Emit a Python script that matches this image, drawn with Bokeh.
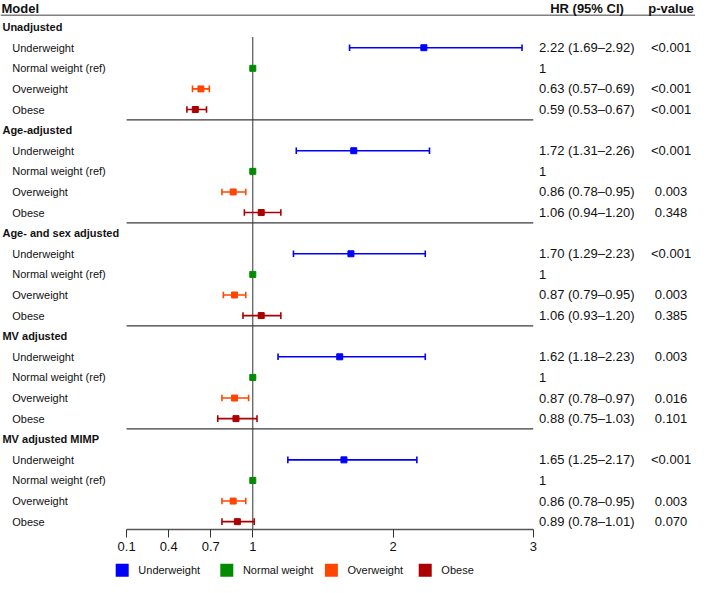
from bokeh.plotting import figure
from bokeh.layouts import column
from bokeh.models import Range1d, ColumnDataSource, FixedTicker, NumeralTickFormatter
from bokeh.core.properties import value
from bokeh.embed import file_html
from bokeh.resources import INLINE

# ---------------- data ----------------
groups = ["Unadjusted", "Age-adjusted", "Age- and sex adjusted", "MV adjusted", "MV adjusted MIMP"]
categories = ["Underweight", "Normal weight (ref)", "Overweight", "Obese"]
legend_labels = ["Underweight", "Normal weight", "Overweight", "Obese"]
colors = ["#0000FF", "#008B00", "#FF4500", "#AA0000"]

hr_unadj = [2.22, 1.00, 0.63, 0.59]
lo_unadj = [1.69, 1.00, 0.57, 0.53]
hi_unadj = [2.92, 1.00, 0.69, 0.67]
p_unadj = ["<0.001", "", "<0.001", "<0.001"]

hr_age = [1.72, 1.00, 0.86, 1.06]
lo_age = [1.31, 1.00, 0.78, 0.94]
hi_age = [2.26, 1.00, 0.95, 1.20]
p_age = ["<0.001", "", "0.003", "0.348"]

hr_agesex = [1.70, 1.00, 0.87, 1.06]
lo_agesex = [1.29, 1.00, 0.79, 0.93]
hi_agesex = [2.23, 1.00, 0.95, 1.20]
p_agesex = ["<0.001", "", "0.003", "0.385"]

hr_mv = [1.62, 1.00, 0.87, 0.88]
lo_mv = [1.18, 1.00, 0.78, 0.75]
hi_mv = [2.23, 1.00, 0.97, 1.03]
p_mv = ["0.003", "", "0.016", "0.101"]

hr_mimp = [1.65, 1.00, 0.86, 0.89]
lo_mimp = [1.25, 1.00, 0.78, 0.78]
hi_mimp = [2.17, 1.00, 0.95, 1.01]
p_mimp = ["<0.001", "", "0.003", "0.070"]

x_ticks = [0.1, 0.4, 0.7, 1, 2, 3]

hr_all = [hr_unadj, hr_age, hr_agesex, hr_mv, hr_mimp]
lo_all = [lo_unadj, lo_age, lo_agesex, lo_mv, lo_mimp]
hi_all = [hi_unadj, hi_age, hi_agesex, hi_mv, hi_mimp]
p_all = [p_unadj, p_age, p_agesex, p_mv, p_mimp]

FONT = "Liberation Sans"

# ---------------- main figure ----------------
PXW = 711  # helper range in reference pixels for the text columns
x_lo = 0.1 - 129 / 143.45
x_hi = 0.1 + (PXW - 129) / 143.45
p = figure(width=695, height=553, output_backend="svg", toolbar_location=None,
           x_range=Range1d(x_lo, x_hi), y_range=Range1d(24.38, -1.29),
           min_border_left=0, min_border_right=0, min_border_top=0, min_border_bottom=0)
p.extra_x_ranges = {"px": Range1d(0, PXW)}
p.outline_line_color = None
p.xgrid.visible = False
p.ygrid.visible = False
p.yaxis.visible = False

uy, ulo, uhi, ucol = [], [], [], []
mx, my, mcol = [], [], []
hdr_txt, hdr_y = [], []
lab_txt, lab_y, hr_txt, p_txt = [], [], [], []
for g, grp in enumerate(groups):
    r0 = 5 * g
    hdr_txt.append(grp)
    hdr_y.append(r0)
    for i, cat in enumerate(categories):
        r = r0 + 1 + i
        h, l, u = hr_all[g][i], lo_all[g][i], hi_all[g][i]
        lab_txt.append(cat)
        lab_y.append(r)
        if i == 1:
            hr_txt.append("1")
        else:
            hr_txt.append(f"{h:.2f} ({l:.2f}\u2013{u:.2f})")
            uy.append(r); ulo.append(l); uhi.append(u); ucol.append(colors[i])
        p_txt.append(p_all[g][i])
        mx.append(h); my.append(r); mcol.append(colors[i])

# separators
sep_y = [5 * g + 4.5 for g in range(len(groups) - 1)]
p.segment(x0=[x_ticks[0]] * len(sep_y), x1=[x_ticks[-1]] * len(sep_y), y0=sep_y, y1=sep_y,
          line_color="#3a3a3a", line_width=1.3)
# header line
p.segment(x0=[0], x1=[PXW], y0=[-0.57], y1=[-0.57], x_range_name="px",
          line_color="#808080", line_width=1.5)
# reference line at HR = 1
p.segment(x0=[1], x1=[1], y0=[0.48], y1=[24.38], line_color="#333333", line_width=1)

# CI lines & caps
ci = ColumnDataSource(dict(lo=ulo, hi=uhi, y=uy, c=ucol,
                           ya=[v - 0.16 for v in uy], yb=[v + 0.16 for v in uy]))
p.segment(x0="lo", x1="hi", y0="y", y1="y", line_color="c", line_width=1.6, source=ci)
p.segment(x0="lo", x1="lo", y0="ya", y1="yb", line_color="c", line_width=1.6, source=ci)
p.segment(x0="hi", x1="hi", y0="ya", y1="yb", line_color="c", line_width=1.6, source=ci)
p.scatter(x=mx, y=my, marker="square", size=6, fill_color=mcol, line_color=mcol, line_width=1)

# texts
common = dict(x_range_name="px", text_font=value(FONT), text_baseline="middle", text_color="#111111")
p.text(x=[1], y=[-0.9], text=["Model"], text_font_size="13px", text_font_style="bold", **common)
p.text(x=[600], y=[-0.9], text=["HR (95% CI)"], text_font_size="13px", text_font_style="bold",
       text_align="center", **common)
p.text(x=[686], y=[-0.9], text=["p-value"], text_font_size="13px", text_font_style="bold",
       text_align="center", **common)
p.text(x=[2] * len(hdr_txt), y=hdr_y, text=hdr_txt, text_font_size="11px", text_font_style="bold", **common)
p.text(x=[12] * len(lab_txt), y=lab_y, text=lab_txt, text_font_size="11px", **common)
p.text(x=[551] * len(hr_txt), y=lab_y, text=hr_txt, text_font_size="13px", **common)
p.text(x=[686] * len(p_txt), y=lab_y, text=p_txt, text_font_size="13px", text_align="center", **common)

# axis
ax = p.xaxis[0]
ax.ticker = FixedTicker(ticks=x_ticks)
ax.bounds = (x_ticks[0], x_ticks[-1])
ax.formatter = NumeralTickFormatter(format="0.[0]")
ax.major_tick_out = 8
ax.major_tick_in = 0
ax.minor_tick_out = 0
ax.minor_tick_in = 0
ax.axis_line_color = "#555555"
ax.axis_line_width = 1.3
ax.major_tick_line_color = "#333333"
ax.major_label_text_font = FONT
ax.major_label_text_font_size = "13px"
ax.major_label_text_color = "#111111"
ax.major_label_standoff = 4

# ---------------- legend strip ----------------
leg_x = [118, 225, 332, 428]  # left edge of each key square (reference px)
q = figure(width=695, height=24, output_backend="svg", toolbar_location=None,
           x_range=Range1d(0, PXW), y_range=Range1d(0, 1),
           min_border_left=0, min_border_right=0, min_border_top=0, min_border_bottom=0)
q.outline_line_color = None
q.xgrid.visible = False
q.ygrid.visible = False
q.xaxis.visible = False
q.yaxis.visible = False
q.rect(x=[v + 6.5 for v in leg_x], y=[0.3] * 4, width=13, height=13,
       width_units="screen", height_units="screen", fill_color=colors, line_color=None)
q.text(x=[v + 23 for v in leg_x], y=[0.3] * 4, text=legend_labels, text_font=value(FONT),
       text_font_size="11px", text_baseline="middle", text_color="#111111")

layout = column(p, q, spacing=0)
open("out.html", "w").write(file_html(layout, INLINE))
